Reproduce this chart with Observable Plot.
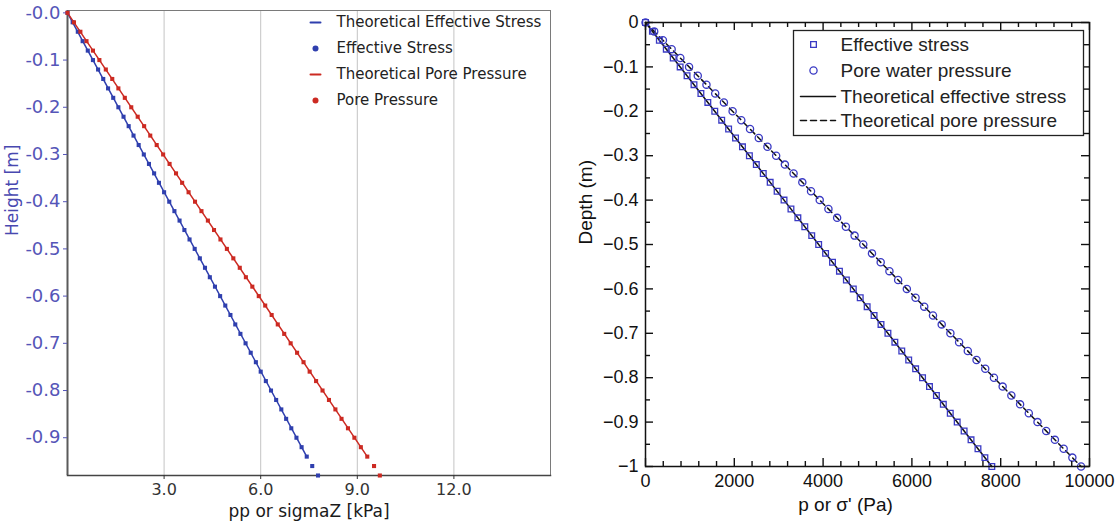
<!DOCTYPE html>
<html><head><meta charset="utf-8">
<script src="https://cdn.jsdelivr.net/npm/d3@7"></script>
<script src="https://cdn.jsdelivr.net/npm/@observablehq/plot@0.6"></script>
<style>
html,body{margin:0;padding:0;background:#fff;}
#wrap{display:flex;width:1117px;height:521px;overflow:hidden;}
#wrap svg{display:block;flex:none;}
</style></head><body><div id="wrap"></div>
<script>
// ---------- Left chart data (kPa, m) ----------
const leftDepth = [0,0.02,0.04,0.06,0.08,0.10,0.12,0.14,0.16,0.18,0.20,0.22,0.24,0.26,0.28,0.30,0.32,0.34,0.36,0.38,0.40,0.42,0.44,0.46,0.48,0.50,0.52,0.54,0.56,0.58,0.60,0.62,0.64,0.66,0.68,0.70,0.72,0.74,0.76,0.78,0.80,0.82,0.84,0.86,0.88,0.90,0.92,0.94,0.96,0.98];
const leftEffective = [0,0.16,0.32,0.47,0.63,0.79,0.95,1.11,1.26,1.42,1.58,1.74,1.90,2.05,2.21,2.37,2.53,2.69,2.84,3.00,3.16,3.32,3.48,3.63,3.79,3.95,4.11,4.27,4.42,4.58,4.74,4.90,5.06,5.21,5.37,5.53,5.69,5.85,6.00,6.16,6.32,6.48,6.64,6.79,6.95,7.11,7.27,7.43,7.60,7.78];
const leftPore = [0,0.20,0.40,0.59,0.79,0.99,1.19,1.39,1.58,1.78,1.98,2.18,2.38,2.57,2.77,2.97,3.17,3.37,3.56,3.76,3.96,4.16,4.36,4.55,4.75,4.95,5.15,5.35,5.54,5.74,5.94,6.14,6.34,6.53,6.73,6.93,7.13,7.33,7.52,7.72,7.92,8.12,8.32,8.51,8.71,8.91,9.11,9.31,9.52,9.70];
const leftTheoryDepth = [0, 0.94];
const leftTheoryEffective = [0, 7.43];
const leftTheoryPore = [0, 9.31];
const leftXTicks = [3, 6, 9, 12];
const leftYTicks = [0,-0.1,-0.2,-0.3,-0.4,-0.5,-0.6,-0.7,-0.8,-0.9];
const leftLegend = ["Theoretical Effective Stress","Effective Stress","Theoretical Pore Pressure","Pore Pressure"];

// ---------- Right chart data (Pa, m) ----------
const rightDepth = [0,0.02,0.04,0.06,0.08,0.10,0.12,0.14,0.16,0.18,0.20,0.22,0.24,0.26,0.28,0.30,0.32,0.34,0.36,0.38,0.40,0.42,0.44,0.46,0.48,0.50,0.52,0.54,0.56,0.58,0.60,0.62,0.64,0.66,0.68,0.70,0.72,0.74,0.76,0.78,0.80,0.82,0.84,0.86,0.88,0.90,0.92,0.94,0.96,0.98,1.00];
const rightEffective = [0,156,312,468,624,780,936,1092,1248,1404,1560,1716,1872,2028,2184,2340,2496,2652,2808,2964,3120,3276,3432,3588,3744,3900,4056,4212,4368,4524,4680,4836,4992,5148,5304,5460,5616,5772,5928,6084,6240,6396,6552,6708,6864,7020,7176,7332,7488,7644,7800];
const rightPore = [0,196,392,589,785,981,1177,1373,1570,1766,1962,2158,2354,2551,2747,2943,3139,3335,3532,3728,3924,4120,4316,4513,4709,4905,5101,5297,5494,5690,5886,6082,6278,6475,6671,6867,7063,7259,7456,7652,7848,8044,8240,8437,8633,8829,9025,9221,9418,9614,9810];
const rightTheoryDepth = [0, 1];
const rightTheoryEffective = [0, 7800];
const rightTheoryPore = [0, 9810];
const rightXMajor = [0,2000,4000,6000,8000,10000];
const rightXMinor = [400,800,1200,1600,2400,2800,3200,3600,4400,4800,5200,5600,6400,6800,7200,7600,8400,8800,9200,9600];
const rightYMajor = [0,-0.1,-0.2,-0.3,-0.4,-0.5,-0.6,-0.7,-0.8,-0.9,-1];
const rightYMinor = [-0.05,-0.15,-0.25,-0.35,-0.45,-0.55,-0.65,-0.75,-0.85,-0.95];
const rightLegend = ["Effective stress","Pore water pressure","Theoretical effective stress","Theoretical pore pressure"];

// ---------- build tables ----------
const leftPts = leftDepth.map((d, i) => ({h: -d, eff: leftEffective[i], pp: leftPore[i]}));
const leftTheory = leftTheoryDepth.map((d, i) => ({h: -d, eff: leftTheoryEffective[i], pp: leftTheoryPore[i]}));
const rightPts = rightDepth.map((d, i) => ({h: -d, eff: rightEffective[i], pp: rightPore[i]}));
const rightTheory = rightTheoryDepth.map((d, i) => ({h: -d, eff: rightTheoryEffective[i], pp: rightTheoryPore[i]}));

const BLUE = "#2f3fae", RED = "#cc2a22", TICKBLUE = "#5555b8", PTBLUE = "#3a3ac4";
const hline = {draw(ctx, l) { ctx.moveTo(0, 0); ctx.lineTo(l, 0); }};
const MAJ = 8, MIN = 5;

const left = Plot.plot({
  width: 558, height: 521,
  marginLeft: 67, marginRight: 8, marginTop: 10, marginBottom: 46,
  style: {fontFamily: "DejaVu Sans", fontSize: "16px", background: "white", overflow: "visible"},
  x: {domain: [0, 15]},
  y: {domain: [-0.98, 0.005]},
  marks: [
    Plot.gridX(leftXTicks, {stroke: "#c4c4c4", strokeOpacity: 1}),
    Plot.frame({stroke: "#7a7a7a"}),
    Plot.ruleX([0], {stroke: "#5a5a5a", strokeWidth: 2}),
    Plot.frame({anchor: "bottom", stroke: "#444", strokeWidth: 1.5}),
    Plot.axisY(leftYTicks, {tickFormat: d => "-" + Math.abs(d).toFixed(1), color: TICKBLUE, tickSize: 4, tickPadding: 3, label: null, fontSize: 18}),
    Plot.axisX(leftXTicks, {tickFormat: d => d.toFixed(1), color: "#333", tickSize: 4, tickPadding: 4, label: null, fontSize: 16}),
    Plot.line(leftTheory, {x: "eff", y: "h", stroke: BLUE, strokeWidth: 1.5}),
    Plot.line(leftTheory, {x: "pp", y: "h", stroke: RED, strokeWidth: 1.5}),
    Plot.dot(leftPts, {x: "eff", y: "h", symbol: "square", r: 2.3, fill: BLUE}),
    Plot.dot(leftPts, {x: "pp", y: "h", symbol: "square", r: 2.3, fill: RED}),
    Plot.text(["Height [m]"], {frameAnchor: "left", rotate: -90, dx: -55, dy: -7, fill: "#4848b0", fontSize: 17}),
    Plot.text(["pp or sigmaZ [kPa]"], {frameAnchor: "bottom", lineAnchor: "middle", dy: 36, fill: "#1a1a1a", fontSize: 17}),
    Plot.vector([leftLegend[0]], {frameAnchor: "top-left", dx: 243, dy: 12, length: 10, shape: hline, anchor: "start", stroke: BLUE, strokeWidth: 2}),
    Plot.dot([leftLegend[1]], {frameAnchor: "top-left", dx: 248, dy: 38, r: 3, fill: BLUE}),
    Plot.vector([leftLegend[2]], {frameAnchor: "top-left", dx: 243, dy: 64, length: 10, shape: hline, anchor: "start", stroke: RED, strokeWidth: 2}),
    Plot.dot([leftLegend[3]], {frameAnchor: "top-left", dx: 248, dy: 90, r: 3, fill: RED}),
    ...leftLegend.map((t, i) => Plot.text([t], {frameAnchor: "top-left", lineAnchor: "middle", dx: 269, dy: [12, 38, 64, 90][i], textAnchor: "start", fill: "#222", fontSize: 15}))
  ]
});

// right frame is 444 x 444 px (width 559-87-28, height 521-22-55)
const FW = 444, FH = 444;
const TK = {stroke: "#111", strokeWidth: 1.4};
const right = Plot.plot({
  width: 559, height: 521,
  marginLeft: 87, marginRight: 28, marginTop: 22, marginBottom: 55,
  style: {fontFamily: "Liberation Sans, Arial, sans-serif", fontSize: "18px", background: "white", color: "#111", overflow: "visible"},
  x: {domain: [0, 10000]},
  y: {domain: [-1, 0]},
  marks: [
    Plot.line(rightTheory, {x: "eff", y: "h", stroke: "#111", strokeWidth: 1.5}),
    Plot.line(rightTheory, {x: "pp", y: "h", stroke: "#111", strokeWidth: 1.5, strokeDasharray: "6,4"}),
    Plot.dot(rightPts, {x: "eff", y: "h", symbol: "square", r: 3.2, stroke: PTBLUE, strokeWidth: 1.3}),
    Plot.dot(rightPts, {x: "pp", y: "h", symbol: "circle", r: 3.6, stroke: PTBLUE, strokeWidth: 1.3}),
    Plot.axisX(rightXMajor, {anchor: "bottom", tickSize: 0, tickPadding: 8, tickFormat: d3.format("d"), label: null, fontSize: 18}),
    Plot.axisY(rightYMajor, {anchor: "left", tickSize: 0, tickPadding: 7, tickFormat: d3.format(""), label: null, fontSize: 18}),
    // inward ticks on all four sides
    Plot.tickX(rightXMajor, {x: d => d, insetTop: FH - MAJ, ...TK}),
    Plot.tickX(rightXMinor, {x: d => d, insetTop: FH - MIN, ...TK}),
    Plot.tickX(rightXMajor, {x: d => d, insetBottom: FH - MAJ, ...TK}),
    Plot.tickX(rightXMinor, {x: d => d, insetBottom: FH - MIN, ...TK}),
    Plot.tickY(rightYMajor, {y: d => d, insetRight: FW - MAJ, ...TK}),
    Plot.tickY(rightYMinor, {y: d => d, insetRight: FW - MIN, ...TK}),
    Plot.tickY(rightYMajor, {y: d => d, insetLeft: FW - MAJ, ...TK}),
    Plot.tickY(rightYMinor, {y: d => d, insetLeft: FW - MIN, ...TK}),
    Plot.frame({stroke: "#111", strokeWidth: 1.5}),
    Plot.text(["Depth (m)"], {frameAnchor: "left", rotate: -90, dx: -60, fill: "#111", fontSize: 19}),
    Plot.text(["p or σ' (Pa)"], {frameAnchor: "bottom", lineAnchor: "middle", dx: -22, dy: 38, fill: "#111", fontSize: 19}),
    // legend box
    Plot.frame({insetLeft: 148, insetRight: 6, insetTop: 8, insetBottom: 331, fill: "white", stroke: "#222", strokeWidth: 1.3}),
    Plot.dot([rightLegend[0]], {frameAnchor: "top-left", dx: 168, dy: 22, symbol: "square", r: 3.2, stroke: PTBLUE, strokeWidth: 1.3}),
    Plot.dot([rightLegend[1]], {frameAnchor: "top-left", dx: 168, dy: 48, symbol: "circle", r: 3.6, stroke: PTBLUE, strokeWidth: 1.3}),
    Plot.vector([rightLegend[2]], {frameAnchor: "top-left", dx: 155, dy: 74, length: 35, shape: hline, anchor: "start", stroke: "#111", strokeWidth: 1.5}),
    Plot.vector([rightLegend[3]], {frameAnchor: "top-left", dx: 155, dy: 98, length: 35, shape: hline, anchor: "start", stroke: "#111", strokeWidth: 1.5, strokeDasharray: "6,4"}),
    ...rightLegend.map((t, i) => Plot.text([t], {frameAnchor: "top-left", lineAnchor: "middle", dx: 195, dy: [22, 48, 74, 98][i], textAnchor: "start", fill: "#222", fontSize: 19}))
  ]
});

const wrap = document.getElementById("wrap");
wrap.appendChild(left);
wrap.appendChild(right);
</script>
</body></html>
